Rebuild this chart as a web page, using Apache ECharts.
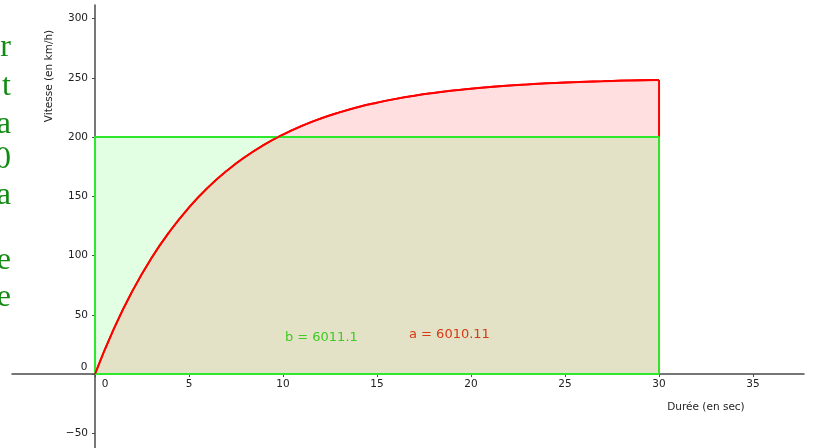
<!DOCTYPE html>
<html>
<head>
<meta charset="utf-8">
<script src="https://cdn.jsdelivr.net/npm/echarts@6/dist/echarts.min.js"></script>
<style>
html,body{margin:0;padding:0;background:#fff;}
#chart{width:814px;height:448px;}
</style>
</head>
<body>
<div id="chart"></div>
<script>
// Data
var timeSec = [0,1,2,3,4,5,6,7,8,9,10,11,12,13,14,15,16,17,18,19,20,21,22,23,24,25,26,27,28,29,30];
var speedKmh = [0,38.1,70.4,97.8,120.9,140.6,157.3,171.4,183.4,193.5,202.1,209.4,215.6,220.8,225.3,229.0,232.2,234.9,237.2,239.2,240.8,242.2,243.4,244.4,245.3,246.0,246.6,247.1,247.6,247.9,248.2];
var rectT = [0,0,30,30,0];
var rectV = [0,200,200,0,0];
var xTicks = [0,5,10,15,20,25,30,35];
var yTicks = [-50,0,50,100,150,200,250,300];
var leftLetters = ['r','t','a','0','a','e','e'];
var labelA = 'a = 6010.11';
var labelB = 'b = 6011.1';
var xTitle = 'Durée (en sec)';
var yTitle = 'Vitesse (en km/h)';

var FONT = 'DejaVu Sans';
var GREEN = '#2ee82e';
var RED = '#ff0000';

var X_MIN = -4.415, X_MAX = 37.71, Y_MIN = -62.4, Y_MAX = 311.4;
var GL = 12, GR = 10, GT = 5, GB = 0;
var W = 814, H = 448;
var gw = W - GL - GR, gh = H - GT - GB;
// shift axes so that they cross at the origin
var xAxisOffset = -(0 - Y_MIN) / (Y_MAX - Y_MIN) * gh;
var yAxisOffset = -(0 - X_MIN) / (X_MAX - X_MIN) * gw;

var curveData = timeSec.map(function(t,i){return [t, speedKmh[i]];});
var rectData = rectT.map(function(t,i){return [t, rectV[i]];});
var edgeData = [[timeSec[timeSec.length-1],0],[timeSec[timeSec.length-1],speedKmh[speedKmh.length-1]]];

var chart = echarts.init(document.getElementById('chart'), null, {renderer:'canvas'});
var option = {
  animation:false,
  backgroundColor:'#ffffff',
  grid:{left:GL,right:GR,top:GT,bottom:GB,containLabel:false,outerBoundsMode:'none'},
  xAxis:{
    type:'value', min:X_MIN, max:X_MAX, position:'bottom', offset:xAxisOffset,
    axisLine:{onZero:false, lineStyle:{color:'#4a4a4a',width:1.5}},
    axisTick:{show:true,length:3,customValues:xTicks,lineStyle:{color:'#4a4a4a'}},
    axisLabel:{customValues:xTicks, margin:5, color:'#222', fontFamily:FONT, fontSize:10.5,
      formatter:function(v){return v===0?'':String(v);}},
    splitLine:{show:false}
  },
  yAxis:{
    type:'value', min:Y_MIN, max:Y_MAX, position:'left', offset:yAxisOffset,
    axisLine:{onZero:false, lineStyle:{color:'#4a4a4a',width:1.5}},
    axisTick:{show:true,length:3,customValues:yTicks,lineStyle:{color:'#4a4a4a'}},
    axisLabel:{customValues:yTicks, margin:7, color:'#222', fontFamily:FONT, fontSize:10.5,
      formatter:function(v){return v===0?'':(v<0?'\u2212'+Math.abs(v):String(v));}},
    splitLine:{show:false}
  },
  series:[
    {type:'line', data:curveData, symbol:'none', smooth:true, lineStyle:{color:RED,width:2},
      areaStyle:{color:'rgba(255,0,0,0.125)',opacity:1}, z:2, silent:true},
    {type:'line', data:edgeData, symbol:'none', lineStyle:{color:RED,width:2}, z:2, silent:true},
    {type:'line', data:rectData, symbol:'none', lineStyle:{color:GREEN,width:2},
      areaStyle:{color:'rgba(0,255,0,0.11)',opacity:1}, z:3, silent:true},
    {type:'line', data:curveData, symbol:'none', smooth:true, lineStyle:{color:RED,width:1.8}, z:4, silent:true}
  ]
};
chart.setOption(option);

var p0 = chart.convertToPixel({gridIndex:0},[0,0]);
var pB = chart.convertToPixel({gridIndex:0},[10.1,30.4]);
var pA = chart.convertToPixel({gridIndex:0},[16.7,32.9]);
var letterMid = [48,85,122,157,193,258,295];
var graphics = [
  {type:'text', x:p0[0]+10, y:p0[1]+10, style:{text:'0', fill:'#222', font:'10.5px "DejaVu Sans"', textAlign:'center', textVerticalAlign:'middle'}},
  {type:'text', x:p0[0]-11, y:p0[1]-7, style:{text:'0', fill:'#222', font:'10.5px "DejaVu Sans"', textAlign:'center', textVerticalAlign:'middle'}},
  {type:'text', x:pB[0], y:pB[1], style:{text:labelB, fill:'#2ee02e', font:'13px "DejaVu Sans"', textAlign:'left', textVerticalAlign:'middle'}},
  {type:'text', x:pA[0], y:pA[1], style:{text:labelA, fill:'#f0261a', font:'13px "DejaVu Sans"', textAlign:'left', textVerticalAlign:'middle'}},
  {type:'text', x:706, y:407, style:{text:xTitle, fill:'#222', font:'10.5px "DejaVu Sans"', textAlign:'center', textVerticalAlign:'middle'}},
  {type:'text', x:49, y:76, rotation:Math.PI/2, style:{text:yTitle, fill:'#222', font:'10.5px "DejaVu Sans"', textAlign:'center', textVerticalAlign:'middle'}}
];
var letterShift = [0,2,3,3,3,3,3];
leftLetters.forEach(function(ch,i){
  graphics.push({type:'text', x:11, y:letterMid[i] + letterShift[i], style:{text:ch, fill:'#108a10', font:'32px "Liberation Serif"', textAlign:'right', textVerticalAlign:'middle'}});
});
chart.setOption({graphic:graphics});
</script>
</body>
</html>
